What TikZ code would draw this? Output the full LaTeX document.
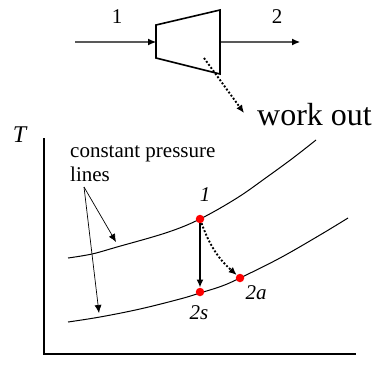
\documentclass[tikz,border=0pt]{standalone}
\usepackage{fontspec}
\setmainfont{Liberation Serif}
\usetikzlibrary{arrows.meta}
\tikzset{
  flow/.style={draw=black!65,line width=1.1pt,-{Latex[black,length=8pt,width=7pt]}},
  thick line/.style={draw=black,line width=1.6pt},
  curveline/.style={draw=black,line width=1pt},
  ptr/.style={draw=black,line width=0.7pt,-{Latex[length=8pt,width=7pt]}},
  dotarrow/.style={draw=black,line width=1.9pt,dash pattern=on 1.9pt off 1.9pt,-{Latex[length=8pt,width=7pt,sep=0pt]}},
  pt/.style={circle,fill=red,inner sep=0pt,minimum size=8.5pt},
  lab/.style={inner sep=0pt,font=\fontsize{21}{23}\selectfont},
  ilab/.style={inner sep=0pt,font=\fontsize{21}{23}\selectfont\itshape},
}
\begin{document}
\begin{tikzpicture}[x=1pt,y=-1pt]
\useasboundingbox (0,0) rectangle (374,367);
% turbine
\coordinate (in) at (75,42);
\coordinate (tinlet) at (156,42);
\coordinate (toutlet) at (220,42);
\coordinate (out) at (300,42);
\draw[flow] (in) -- (tinlet);
\draw[flow] (toutlet) -- (out);
\draw[thick line,line join=miter] (156,25) -- (220,10) -- (220,74) -- (156,58) -- cycle;
\node[lab] (l1) at (117,17) {1};
\node[lab] (l2) at (277,17) {2};
\coordinate (ws) at (204,58);
\coordinate (we) at (244,113);
\draw[dotarrow] (ws) -- (we);
\node[inner sep=0pt,anchor=base west,font=\fontsize{32}{36}\selectfont] (work) at (257,125) {work out};
% axes
\node[inner sep=0pt,font=\fontsize{24}{26}\selectfont\itshape] (T) at (19.5,135) {T};
\draw[thick line] (44,138) -- (44,354) -- (356,354);
% curves
\draw[curveline] plot[smooth,tension=0.6] coordinates {(68,258) (92,254) (117,247) (167,232.5) (200,219) (237,198) (267,177) (293,158) (316,140)};
\draw[curveline] plot[smooth,tension=0.6] coordinates {(68,322) (100,317) (140,309) (180,299) (200,293) (222,286) (240,278) (280,258) (320,235) (348,218)};
% labels
\node[lab,anchor=base west] (c1) at (70,157) {constant pressure};
\node[lab,anchor=base west] (c2) at (70,181) {lines};
\coordinate (ps) at (84,187);
\coordinate (p1) at (116,242);
\coordinate (p2) at (99,313);
\draw[ptr] (ps) -- (p1);
\draw[ptr] (ps) -- (p2);
% states
\node[pt] (s1) at (200,219) {};
\node[pt] (s2s) at (200,292) {};
\node[pt] (s2a) at (240,278) {};
\draw[line width=1.6pt,-{Latex[length=8pt,width=7pt]}] (s1) -- (s2s);
\draw[dotarrow] (s1) to[bend right=14] (s2a);
\node[ilab] (n1) at (205,195) {1};
\node[ilab] (n2a) at (256,293) {2a};
\node[ilab] (n2s) at (199,313) {2s};
\end{tikzpicture}
\end{document}
